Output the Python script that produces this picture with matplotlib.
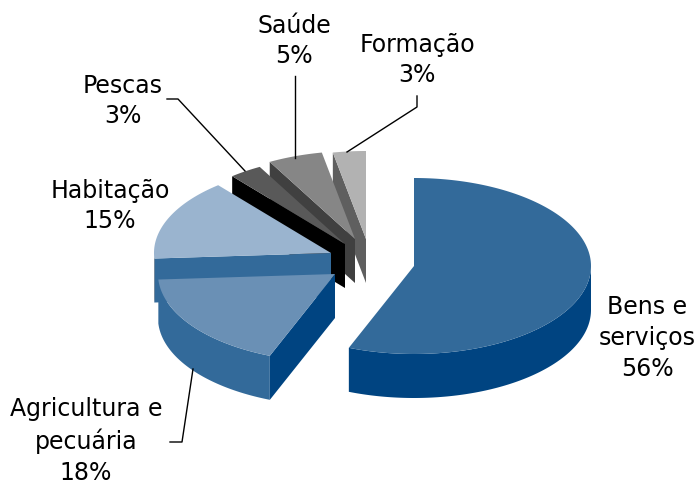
import numpy as np
import matplotlib
matplotlib.use("Agg")
import matplotlib.pyplot as plt
from matplotlib.patches import Polygon

# Data, clockwise from 12 o'clock
labels = ["Bens e\nserviços", "Agricultura e\npecuária", "Habitação", "Pescas", "Saúde", "Formação"]
shares = [56, 18, 15, 3, 5, 3]

# Colours of each slice: top, outer rim, cut face
top_colors = ["#336A9A", "#6A90B5", "#9AB4CF", "#595959", "#868686", "#B2B2B2"]
rim_colors = ["#004481", "#336A9A", "#666666", "#000000", "#404040", "#5F5F5F"]
cut_colors = ["#336A9A", "#004481", "#336A9A", "#000000", "#404040", "#5F5F5F"]

# Exploded centre of each slice, in image pixels
centers = [(414, 267), (335, 275), (331, 254), (345, 245), (355, 240), (366, 240)]
RX, RY, DEPTH = 177, 88, 44

# Label centres and leader lines
label_pos = [(647, 338), (86, 441), (110, 206), (123, 101), (294, 41), (417, 60)]
leaders = [
    None,
    [(170, 443), (182, 443), (193, 370)],
    None,
    [(167, 100), (178, 100), (245, 172)],
    [(295, 77), (295, 159)],
    [(417, 97), (417, 108), (347, 153)],
]

fig = plt.figure(figsize=(6.98, 4.85), dpi=100)
ax = fig.add_axes([0, 0, 1, 1])
ax.set_xlim(0, 698)
ax.set_ylim(485, 0)
ax.axis("off")


def rim_point(center, t):
    return center[0] + RX * np.cos(t), center[1] - RY * np.sin(t)


# Start and end angle of every slice, going clockwise
cum = np.cumsum([0] + shares) / sum(shares)
starts = np.pi / 2 - 2 * np.pi * cum[:-1]
ends = np.pi / 2 - 2 * np.pi * cum[1:]

# Back slices first so the front ones cover them
for i in [5, 4, 3, 2, 1, 0]:
    c = centers[i]
    t = np.linspace(starts[i], ends[i], 200)
    x, y = rim_point(c, t)

    # cut face along the starting radius
    sx, sy = rim_point(c, starts[i])
    cut = [c, (sx, sy), (sx, sy + DEPTH), (c[0], c[1] + DEPTH)]
    ax.add_patch(Polygon(cut, closed=True, fc=cut_colors[i], ec="none", zorder=i * -3 + 20))

    # outer rim, only the part facing the viewer
    front = np.sin(t) <= 0
    if front.any():
        fx, fy = x[front], y[front]
        rim = np.column_stack([np.r_[fx, fx[::-1]], np.r_[fy, fy[::-1] + DEPTH]])
        ax.add_patch(Polygon(rim, closed=True, fc=rim_colors[i], ec="none", zorder=i * -3 + 20))

    # top of the slice
    top = np.column_stack([np.r_[c[0], x], np.r_[c[1], y]])
    ax.add_patch(Polygon(top, closed=True, fc=top_colors[i], ec="none", zorder=i * -3 + 21))

for name, share, pos, line in zip(labels, shares, label_pos, leaders):
    ax.text(pos[0], pos[1], f"{name}\n{share}%", ha="center", va="center",
            fontsize=17, family="DejaVu Sans", color="black", linespacing=1.35, zorder=40)
    if line:
        ax.plot(*zip(*line), color="black", lw=1, zorder=30)

fig.savefig("out.png", dpi=100)
